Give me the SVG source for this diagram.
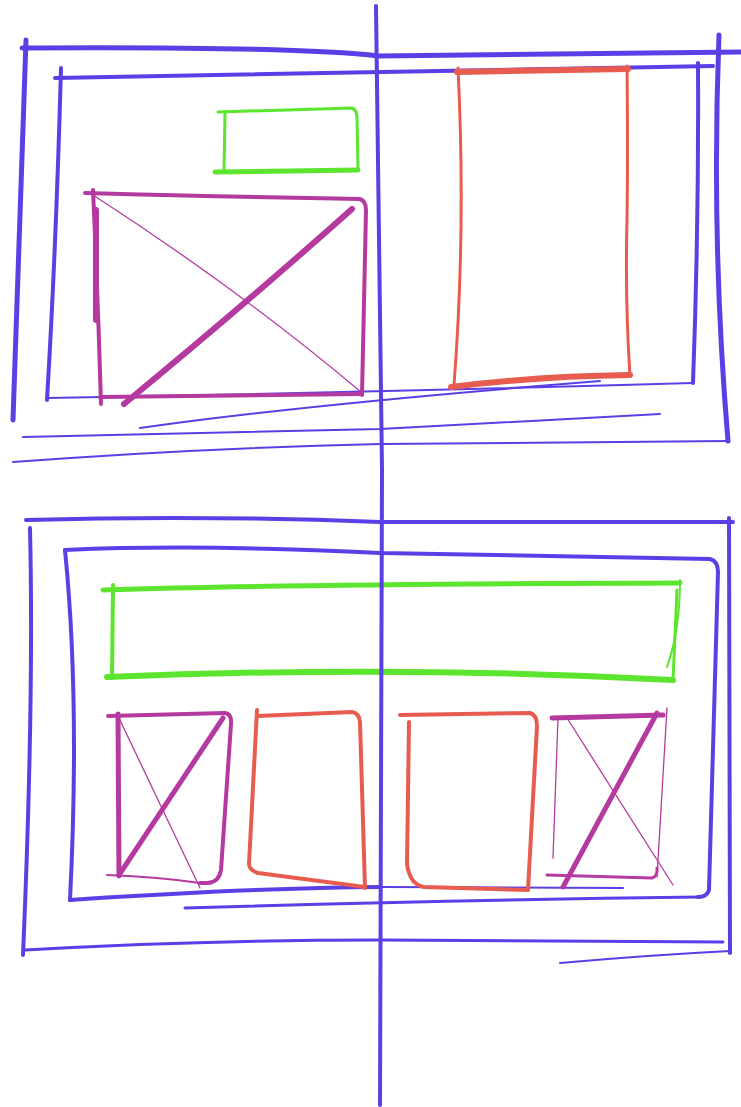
<svg xmlns="http://www.w3.org/2000/svg" width="741" height="1107" viewBox="0 0 741 1107">
<style>
path{fill:none;stroke-linecap:round;stroke-linejoin:round}
.b{stroke:#5b3fe6}
.g{stroke:#5ce52e}
.r{stroke:#e85c50}
.p{stroke:#b53a9f}
.w6{stroke-width:6}.w5{stroke-width:5}.w4{stroke-width:4}.w3{stroke-width:3}.w2{stroke-width:2}.w1{stroke-width:1.3}
</style>
<rect width="741" height="1107" fill="#fff"/>
<g id="top-outer">
<path class="b w5" d="M22,48 C200,47 330,50 378,56 L741,52"/>
<path class="b w5" d="M26,40 Q19,230 13,420"/>
<path class="b w5" d="M719,35 Q711,240 728,441"/>
<path class="b w2" d="M13,462 Q200,448 380,444 L728,441"/>
<path class="b w2" d="M23,437 Q300,431 380,429 L660,414"/>
<path class="b w2" d="M140,428 Q300,405 600,381"/>
</g>
<g id="top-inner">
<path class="b w4" d="M55,78 L713,66"/>
<path class="b w4" d="M61,68 Q56,250 47,400"/>
<path class="b w4" d="M698,63 Q699,220 693,383"/>
<path class="b w2" d="M47,398 Q380,392 693,383"/>
</g>
<g id="top-green-box">
<path class="g w3" d="M218,112 L352,108 Q357,110 357,118 L358,170"/>
<path class="g w3" d="M225,112 L224,170"/>
<path class="g w5" d="M215,172 L358,170"/>
</g>
<g id="top-image-box">
<path class="p w4" d="M85,193 Q240,197 360,199 Q366,201 366,210 L362,395"/>
<path class="p w4" d="M93,190 Q98,300 101,404"/>
<path class="p w6" d="M96,210 L96,320"/>
<path class="p w4" d="M100,397 L362,394"/>
<path class="p w1" d="M93,195 Q240,290 361,392"/>
<path class="p w6" d="M352,209 Q250,300 124,404"/>
</g>
<g id="top-red-box">
<path class="r w6" d="M457,72 L628,69"/>
<path class="r w3" d="M458,68 Q466,230 454,385"/>
<path class="r w3" d="M627,66 Q628,150 627,220 Q625,300 630,376"/>
<path class="r w6" d="M451,387 Q540,376 630,375"/>
</g>
<g id="bottom-outer">
<path class="b w4" d="M26,520 Q200,515 380,522 L733,522"/>
<path class="b w4" d="M30,528 Q34,700 23,955"/>
<path class="b w4" d="M729,518 L730,953"/>
<path class="b w3" d="M25,950 Q200,940 380,940 L723,942"/>
<path class="b w2" d="M560,963 Q650,955 730,951"/>
</g>
<g id="bottom-inner">
<path class="b w4" d="M65,550 Q200,544 380,553 Q600,557 710,559 Q718,561 718,572 L709,890 Q707,897 698,897"/>
<path class="b w4" d="M65,550 Q80,700 70,900"/>
<path class="b w4" d="M70,900 Q250,888 380,887"/>
<path class="b w2" d="M380,887 L623,888"/>
<path class="b w3" d="M185,908 Q450,900 700,897"/>
</g>
<g id="bottom-green-bar">
<path class="g w5" d="M103,590 Q300,584 680,583"/>
<path class="g w4" d="M113,585 L112,678"/>
<path class="g w6" d="M107,677 Q400,665 673,680"/>
<path class="g w2" d="M680,580 Q680,630 667,667"/>
<path class="g w3" d="M677,590 L673,680"/>
</g>
<g id="bottom-image-box-1">
<path class="p w4" d="M108,716 L225,713 Q232,714 231,724 L221,870 Q219,882 208,883 L200,883"/>
<path class="p w5" d="M118,714 L119,876"/>
<path class="p w2" d="M107,875 Q160,877 200,883"/>
<path class="p w5" d="M119,875 L223,718"/>
<path class="p w1" d="M118,716 L200,888"/>
</g>
<g id="bottom-red-box-1">
<path class="r w4" d="M257,716 L352,712 Q359,713 360,722 L365,888"/>
<path class="r w4" d="M257,710 L249,864 Q249,870 258,873 L365,887"/>
</g>
<g id="bottom-red-box-2">
<path class="r w4" d="M400,715 L530,713 Q537,715 537,726 L528,890"/>
<path class="r w4" d="M409,722 L407,864 Q410,885 424,887 L528,890"/>
</g>
<g id="bottom-image-box-2">
<path class="p w5" d="M552,718 L663,715"/>
<path class="p w1" d="M558,718 L553,858"/>
<path class="p w1" d="M667,708 L657,877"/>
<path class="p w3" d="M547,875 L652,878 Q658,876 657,868"/>
<path class="p w5" d="M657,713 L563,887"/>
<path class="p w1" d="M567,718 L673,885"/>
</g>
<g id="center-line">
<path class="b w4" d="M376,6 L382,470 L380,1105"/>
</g>
</svg>
